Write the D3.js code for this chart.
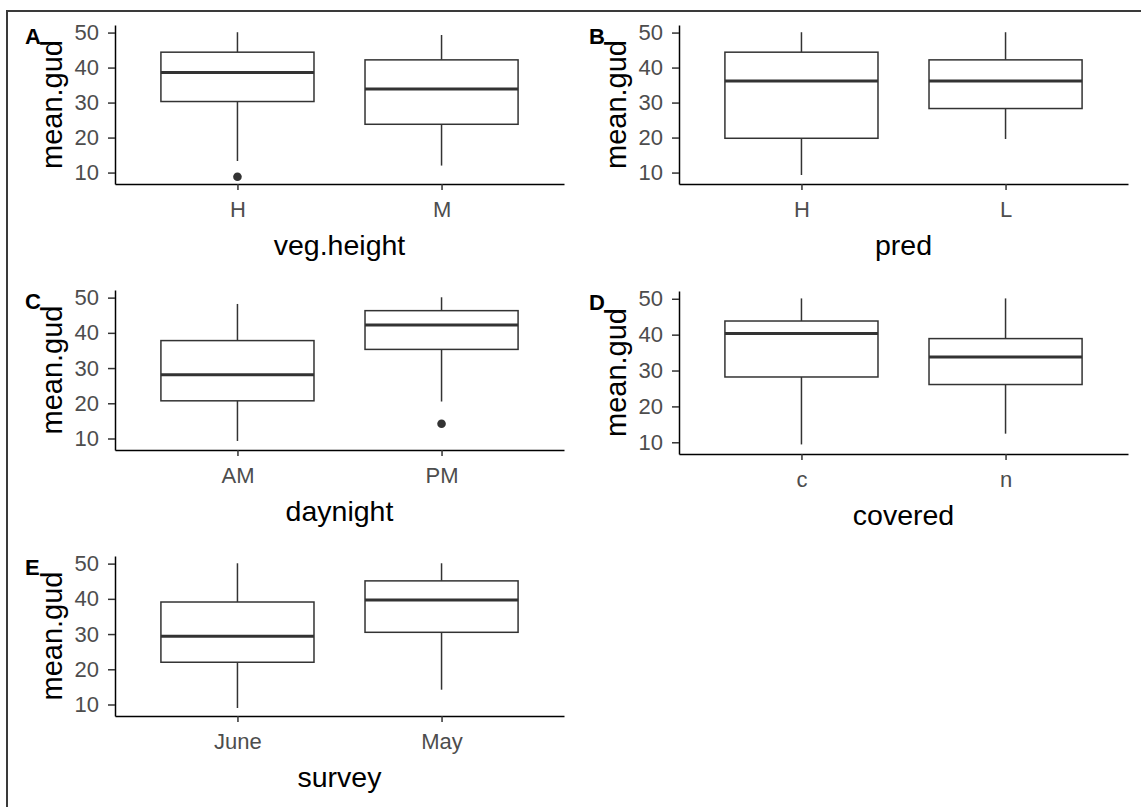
<!DOCTYPE html>
<html>
<head>
<meta charset="utf-8">
<script src="https://cdn.jsdelivr.net/npm/d3@7"></script>
<style>
  body { margin: 0; background: #fff; }
  svg { display: block; font-family: "Liberation Sans", Arial, sans-serif; }
</style>
</head>
<body>
<svg id="drawing_region"></svg>
<script>
// values: one entry per panel, two groups each
const panelTags = ["A", "B", "C", "D", "E"];
const xTitles = ["veg.height", "pred", "daynight", "covered", "survey"];
const groups = [["H", "M"], ["H", "L"], ["AM", "PM"], ["c", "n"], ["June", "May"]];
const lowerWhisker = [[13.3, 12.0], [9.3, 19.6], [9.3, 20.5], [9.4, 12.4], [9.0, 14.2]];
const q1 = [[30.3, 23.8], [19.8, 28.3], [20.7, 35.3], [28.2, 26.1], [22.0, 30.5]];
const medians = [[38.6, 33.9], [36.2, 36.2], [28.1, 42.2], [40.3, 33.8], [29.4, 39.7]];
const q3 = [[44.4, 42.2], [44.4, 42.2], [37.8, 46.3], [43.8, 38.9], [39.1, 45.1]];
const upperWhisker = [[50.1, 49.3], [50.1, 50.1], [48.2, 50.1], [50.1, 50.1], [50.1, 50.1]];
const outliers = [[[8.8], []], [[], []], [[], [14.2]], [[], []], [[], []]];
const yTicks = [10, 20, 30, 40, 50];
const yTitle = "mean.gud";

const config = {
    parent: '#drawing_region',
    width: 1141,
    height: 807,
    // plot area of each panel (left, top, right, bottom)
    areas: [
        { left: 115, top: 25, right: 564, bottom: 184 },
        { left: 679, top: 25, right: 1128, bottom: 184 },
        { left: 115, top: 290, right: 564, bottom: 450 },
        { left: 679, top: 291, right: 1128, bottom: 454 },
        { left: 115, top: 556, right: 564, bottom: 716 }
    ]
};

const svg = d3.select(config.parent)
    .attr('width', config.width)
    .attr('height', config.height);

svg.append('rect')
    .attr('width', config.width)
    .attr('height', config.height)
    .attr('fill', '#fff');

// frame of the screenshot (only top and left visible)
svg.append('rect')
    .attr('x', 7)
    .attr('y', 11)
    .attr('width', 1300)
    .attr('height', 1000)
    .attr('fill', 'none')
    .attr('stroke', '#3a3a3a')
    .attr('stroke-width', 2);

// one shared y range, expanded 5% like ggplot
const allVals = [lowerWhisker, upperWhisker, outliers].flat(3);
const ymin = d3.min(allVals), ymax = d3.max(allVals);
const pad = (ymax - ymin) * 0.05;

panelTags.forEach((tag, i) => {
    const a = config.areas[i];
    const g = svg.append('g');

    const xscale = d3.scalePoint()
        .domain(groups[i])
        .range([a.left, a.right])
        .padding(0.6);
    const yscale = d3.scaleLinear()
        .domain([ymin - pad, ymax + pad])
        .range([a.bottom, a.top]);
    const boxW = xscale.step() * 0.75;

    const stats = groups[i].map((k, j) => ({
        key: k,
        lo: lowerWhisker[i][j], q1: q1[i][j], med: medians[i][j],
        q3: q3[i][j], hi: upperWhisker[i][j], out: outliers[i][j]
    }));

    const box = g.selectAll('.box').data(stats).enter().append('g');

    box.append('line')
        .attr('x1', d => xscale(d.key)).attr('x2', d => xscale(d.key))
        .attr('y1', d => yscale(d.q3)).attr('y2', d => yscale(d.hi))
        .attr('stroke', '#333').attr('stroke-width', 1.5);
    box.append('line')
        .attr('x1', d => xscale(d.key)).attr('x2', d => xscale(d.key))
        .attr('y1', d => yscale(d.q1)).attr('y2', d => yscale(d.lo))
        .attr('stroke', '#333').attr('stroke-width', 1.5);
    box.append('rect')
        .attr('x', d => xscale(d.key) - boxW / 2)
        .attr('width', boxW)
        .attr('y', d => yscale(d.q3))
        .attr('height', d => yscale(d.q1) - yscale(d.q3))
        .attr('fill', '#fff')
        .attr('stroke', '#333').attr('stroke-width', 1.5);
    box.append('line')
        .attr('x1', d => xscale(d.key) - boxW / 2).attr('x2', d => xscale(d.key) + boxW / 2)
        .attr('y1', d => yscale(d.med)).attr('y2', d => yscale(d.med))
        .attr('stroke', '#333').attr('stroke-width', 3);
    box.selectAll('circle')
        .data(d => d.out.map(v => ({ key: d.key, v: v })))
        .enter().append('circle')
        .attr('cx', d => xscale(d.key))
        .attr('cy', d => yscale(d.v))
        .attr('r', 4.3)
        .attr('fill', '#333');

    const yaxis = d3.axisLeft(yscale)
        .tickValues(yTicks)
        .tickSize(7)
        .tickSizeOuter(0)
        .tickPadding(9);
    const xaxis = d3.axisBottom(xscale)
        .tickSize(6)
        .tickSizeOuter(0)
        .tickPadding(11);

    const ya = g.append('g')
        .attr('transform', `translate(${a.left}, 0)`)
        .call(yaxis);
    const xa = g.append('g')
        .attr('transform', `translate(0, ${a.bottom})`)
        .call(xaxis);

    [ya, xa].forEach(ax => {
        ax.select('.domain').attr('stroke', '#000').attr('stroke-width', 1.5);
        ax.selectAll('.tick line').attr('stroke', '#333').attr('stroke-width', 1.5);
        ax.selectAll('.tick text')
            .attr('fill', '#4d4d4d')
            .attr('font-size', '22px')
            .attr('font-family', '"Liberation Sans", Arial, sans-serif');
    });

    g.append('text')
        .attr('x', (a.left + a.right) / 2)
        .attr('y', a.bottom + 71)
        .attr('text-anchor', 'middle')
        .attr('font-size', '28.5px')
        .attr('fill', '#000')
        .text(xTitles[i]);

    g.append('text')
        .attr('transform', `translate(${a.left - 53}, ${(a.top + a.bottom) / 2}) rotate(-90)`)
        .attr('text-anchor', 'middle')
        .attr('font-size', '29px')
        .attr('fill', '#000')
        .text(yTitle);

    g.append('text')
        .attr('x', a.left - 90)
        .attr('y', a.top + 19)
        .attr('font-size', '22px')
        .attr('font-weight', 'bold')
        .attr('fill', '#000')
        .text(tag);
});
</script>
</body>
</html>
